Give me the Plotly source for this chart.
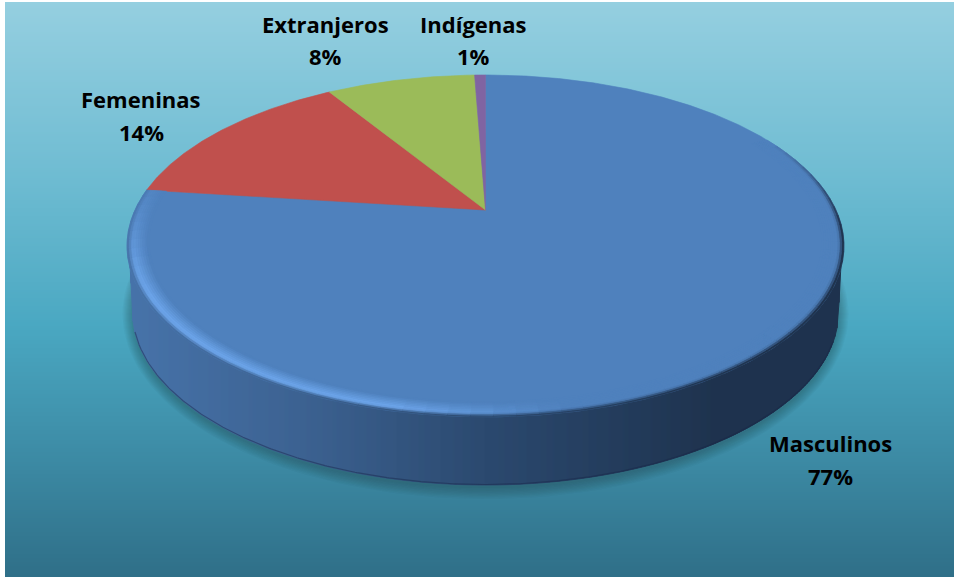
import numpy as np
import plotly.graph_objects as go

categories = ["Masculinos", "Femeninas", "Extranjeros", "Indígenas"]
values = [77.0, 14.2, 8.2, 0.6]
labels_pct = ["77%", "14%", "8%", "1%"]
colors = ["#4f81bd", "#c0504d", "#9bbb59", "#8064a2"]

W, H = 954, 577
CX, CY, A, B, K = 485.5, 210.0, 350.5, 163.4, 0.21
FACE = np.array([0x4f, 0x81, 0xbd], float)
HILITE = np.array([0x6f, 0xa8, 0xee], float)


def proj(theta_deg, r=1.0):
    t = np.radians(theta_deg)
    u, v = r * np.sin(t), r * np.cos(t)
    d = 1 + K * v
    return CX + A * u / d, CY - B * v / d


def rgb(c):
    c = np.clip(c, 0, 255)
    return f"rgb({int(c[0])},{int(c[1])},{int(c[2])})"


def mix(a, b, w):
    return np.array(a, float) * (1 - w) + np.array(b, float) * w


WALL_STOPS_X = [128, 300, 485, 640, 720, 842]
WALL_STOPS_C = [(0x48, 0x74, 0xaa), (0x3d, 0x63, 0x92), (0x2c, 0x4a, 0x70),
                (0x23, 0x3b, 0x5a), (0x1f, 0x33, 0x4e), (0x1f, 0x33, 0x4e)]


def wall_color(x):
    return np.array([np.interp(x, WALL_STOPS_X, [c[i] for c in WALL_STOPS_C]) for i in range(3)])


fig = go.Figure()

# background gradient: narrow horizontal bands
y_edges = np.arange(2, 579, 2.0)
y_mid = (y_edges[:-1] + y_edges[1:]) / 2
fig.add_trace(go.Heatmap(
    x=[5, 954], y=y_edges, z=[[v] for v in y_mid], showscale=False, hoverinfo="skip",
    zmin=2, zmax=577,
    colorscale=[[0, "#95cfe0"], [0.3, "#6fbcd2"], [0.56, "#4aa8c2"], [0.78, "#3d8ca6"], [1, "#2f6f88"]],
))

# lower silhouette
BX, BY, BRX, BRY = 485.5, 312.0, 353.0, 173.0
tt = np.linspace(0, 2 * np.pi, 181)
# soft shadow
for k in range(10, 0, -1):
    fig.add_trace(go.Scatter(
        x=BX + (BRX + k * 1.0) * np.cos(tt), y=BY + 2 + (BRY + k * 1.2) * np.sin(tt),
        mode="lines", fill="toself", fillcolor="rgba(20,50,70,0.035)", line=dict(width=0),
        hoverinfo="skip", showlegend=False))


def wall_bottom(x):
    x = np.asarray(x, float)
    dx = np.clip((x - BX) / BRX, -1, 1)
    y = BY + BRY * np.sqrt(1 - dx ** 2)
    y = np.where(x < BX - BRX, 245 + (BY - 245) * (x - 129) / 3.5, y)
    y = np.where(x > BX + BRX, 245 + (BY - 245) * (842 - x) / 3.5, y)
    return y


# side wall as vertical shaded strips, drawn left to right with overlap
xs = np.arange(129, 840, 2.0)
for x0 in xs:
    x1 = min(x0 + 2.0, 842.0)
    xa = np.array([x0, x1])
    yb = wall_bottom(xa)
    c = rgb(wall_color(x0 + 1))
    fig.add_trace(go.Scatter(
        x=[x0, x1, x1, x0, x0], y=[245, 245, yb[1], yb[0], 245], mode="lines", fill="toself",
        fillcolor=c, line=dict(color=c, width=1), hoverinfo="skip", showlegend=False))

# darker lower edge
xe = np.arange(135, 835, 2.0)
fig.add_trace(go.Scatter(x=xe, y=wall_bottom(xe) - 0.5, mode="lines",
                         line=dict(color="rgba(24,38,72,0.45)", width=1.2), hoverinfo="skip", showlegend=False))

# pie top face, one slice per value
cum = np.cumsum([0] + values)
total = cum[-1]
for i, name in enumerate(categories):
    a0, a1 = cum[i] / total * 360, cum[i + 1] / total * 360
    th = np.linspace(a0, a1, max(int(a1 - a0) * 2, 4))
    px, py = proj(th)
    fig.add_trace(go.Scatter(
        x=np.r_[CX, px, CX], y=np.r_[CY, py, CY], mode="lines", fill="toself",
        fillcolor=colors[i], line=dict(color=colors[i], width=0.6), name=name,
        hoverinfo="name", showlegend=False))

# bevelled rim of the first slice
rings = np.linspace(1.0, 0.94, 11)
arc = np.arange(62, 277.2, 3.0)
for a in arc:
    a2 = min(a + 3.0, values[0] / total * 360)
    xm, _ = proj(a + 1.5)
    s = (xm - 130) / 710
    hl = np.clip((0.62 - s) / 0.25, 0, 1) * np.clip((300 - a) / 60, 0.35, 1)
    fade = np.clip((a - 62) / 32, 0, 1) * np.clip((290 - a) / 40, 0.0, 1)
    dark = wall_color(xm)
    for j in range(len(rings) - 1):
        w = j / (len(rings) - 2)
        tone = mix(FACE, HILITE, hl)
        if w < 0.25:
            col = mix(dark, tone, (w / 0.25))
        else:
            col = mix(tone, FACE, ((w - 0.25) / 0.75))
        col = mix(FACE, col, fade)
        th = np.array([a, a2])
        x1, y1 = proj(th, rings[j])
        x2, y2 = proj(th[::-1], rings[j + 1])
        c = rgb(col)
        fig.add_trace(go.Scatter(
            x=np.r_[x1, x2, x1[0]], y=np.r_[y1, y2, y1[0]], mode="lines", fill="toself",
            fillcolor=c, line=dict(color=c, width=0.7), hoverinfo="skip", showlegend=False))

# data labels, two lines each
label_pos = {"Masculinos": (830, 443, 476), "Femeninas": (141, 99, 132),
             "Extranjeros": (325, 24, 56), "Indígenas": (473, 24, 56)}
annots = []
for name, pct in zip(categories, labels_pct):
    x, y1, y2 = label_pos[name]
    for txt, y in ((name, y1), (pct, y2)):
        annots.append(dict(x=x, y=y, text=f"<b>{txt}</b>", showarrow=False, xanchor="center", yanchor="middle",
                           font=dict(family="Open Sans", size=22, color="#000000")))

fig.update_layout(
    width=W, height=H, margin=dict(l=0, r=0, t=0, b=0), paper_bgcolor="white", plot_bgcolor="white",
    showlegend=False, annotations=annots,
    xaxis=dict(range=[0, W], visible=False, fixedrange=True),
    yaxis=dict(range=[H, 0], visible=False, fixedrange=True),
)
fig.write_html("out.html", config={"displayModeBar": False},
               post_script="document.body.style.margin='0';document.documentElement.style.overflow='hidden';")
